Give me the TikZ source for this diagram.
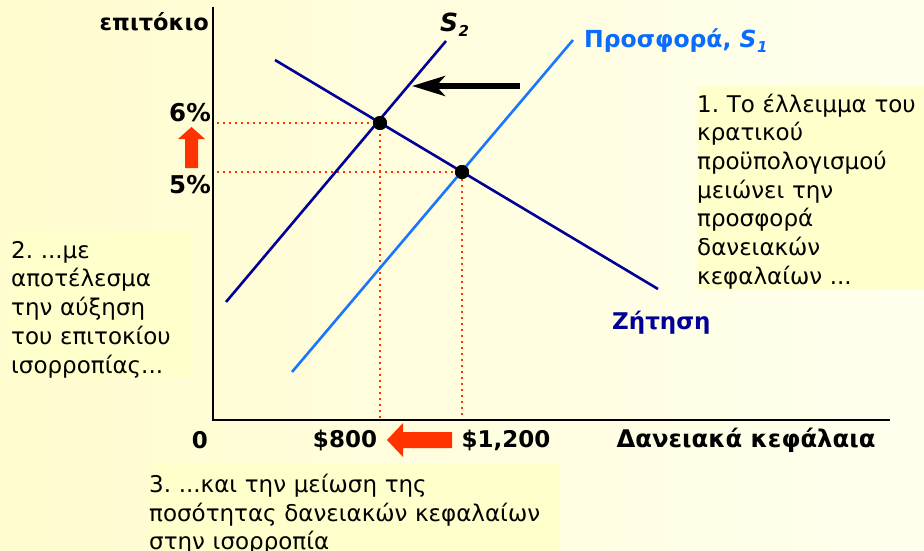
\documentclass[tikz,border=0pt]{standalone}
\usepackage{fontspec}
\setmainfont{DejaVu Sans}
\usetikzlibrary{arrows.meta}
\definecolor{bgL}{HTML}{FFFCCF}
\definecolor{bgR}{HTML}{FFFFEE}
\definecolor{boxc}{HTML}{FFFFCC}
\definecolor{navyc}{HTML}{000099}
\definecolor{sblue}{HTML}{1A75FF}
\definecolor{lblue}{HTML}{0A6CFF}
\definecolor{ored}{HTML}{FF3300}
\tikzset{
  curve/.style={line width=2.6pt},
  guide/.style={ored, line width=2pt, dash pattern=on 2pt off 4pt},
  axisline/.style={line width=2.6pt, black},
  eqdot/.style={circle, fill=black, inner sep=0pt, minimum size=14pt},
  tick/.style={font=\fontsize{23}{27}\selectfont\bfseries, inner sep=0pt},
  note/.style={fill=boxc, inner sep=0pt, align=left, anchor=north west,
    font=\fontsize{23}{28.7}\selectfont},
  blockarrow/.style={fill=ored, draw=none}
}
\begin{document}
\frenchspacing
\begin{tikzpicture}[x=1pt,y=-1pt]
\useasboundingbox (0,0) rectangle (924,551);
\clip (0,0) rectangle (924,551);
\shade[left color=bgL, right color=bgR] (0,0) rectangle (924,551);

% axes
\coordinate (O) at (213,420);
\coordinate (ytop) at (213,7);
\coordinate (xend) at (890,420);
\draw[axisline] (ytop) -- (O) -- (xend);

% curve end points
\coordinate (s2a) at (226,302);
\coordinate (s2b) at (446,41);
\coordinate (s1a) at (292,372);
\coordinate (s1b) at (573,40);
\coordinate (da) at (275,60);
\coordinate (db) at (658,289);

% guides
\coordinate (y6) at (217,123);
\coordinate (y5) at (217,172);
\coordinate (x8) at (380,418);
\coordinate (x12) at (462,418);
\node[eqdot] (e2) at (380,123) {};
\node[eqdot] (e1) at (462,172) {};
\draw[guide] (y6) -- (e2.center) -- (x8);
\draw[guide] (y5) -- (e1.center) -- (x12);

\draw[curve, navyc] (da) -- (db);
\draw[curve, navyc] (s2a) -- (s2b);
\draw[curve, sblue] (s1a) -- (s1b);
\node[eqdot] at (e2) {};
\node[eqdot] at (e1) {};

% shift arrow
\coordinate (arS) at (520,86);
\coordinate (arE) at (412,86);
\draw[line width=5.5pt, -{Stealth[length=33pt, width=20pt, inset=9pt]}] (arS) -- (arE);

% labels
\node[font=\fontsize{22.5}{26}\selectfont\bfseries, anchor=east, inner sep=0pt] (ylab) at (209,22) {επιτόκιο};
\node[tick, font=\fontsize{24.5}{27}\selectfont\bfseries, anchor=east] (l6) at (211,113) {6\%};
\node[tick, font=\fontsize{24.5}{27}\selectfont\bfseries, anchor=east] (l5) at (211,185) {5\%};
\node[tick] (l0) at (200,440) {0};
\node[tick] (l800) at (345,440) {\$800};
\node[tick] (l1200) at (506,440) {\$1,200};
\node[tick, font=\fontsize{24.3}{27}\selectfont\bfseries] (xlab) at (746,440) {Δανειακά κεφάλαια};
\node[font=\fontsize{25}{27}\selectfont\bfseries\itshape, anchor=west, inner sep=0pt] (s2lab) at (440,25) {S\kern0.5pt\raisebox{-5pt}{\fontsize{15}{15}\selectfont 2}};
\node[font=\fontsize{23.5}{27}\selectfont\bfseries, text=lblue, anchor=west, inner sep=0pt] (s1lab) at (584,41) {Προσφορά, \itshape S\kern0.5pt\raisebox{-5pt}{\fontsize{15}{15}\selectfont 1}};
\node[font=\fontsize{23}{27}\selectfont\bfseries, text=navyc, anchor=west, inner sep=0pt] (dlab) at (612,323) {Ζήτηση};

% red block arrows
\fill[blockarrow] (185,168) -- (198,168) -- (198,139) -- (205,139) -- (191.5,127) -- (178,139) -- (185,139) -- cycle;
\fill[blockarrow] (452,432) -- (403,432) -- (403,423) -- (387,440) -- (403,457) -- (403,448) -- (452,448) -- cycle;

% notes
\node[note, text width=227pt, minimum height=201pt] (n1) at (697,86) {\rule{0pt}{26pt}1. Το έλλειμμα του\\κρατικού\\προϋπολογισμού\\μειώνει την\\προσφορά\\δανειακών\\κεφαλαίων ...};
\node[note, text width=181pt, minimum height=145pt] (n2) at (11,232) {\rule{0pt}{26pt}2. ...με\\αποτέλεσμα\\την αύξηση\\του επιτοκίου\\ισορροπίας...};
\node[note, text width=410pt, minimum height=100pt] (n3) at (149,464) {\rule{0pt}{17pt}3. ...και την μείωση της\\ποσότητας δανειακών κεφαλαίων\\στην ισορροπία};
\end{tikzpicture}
\end{document}
